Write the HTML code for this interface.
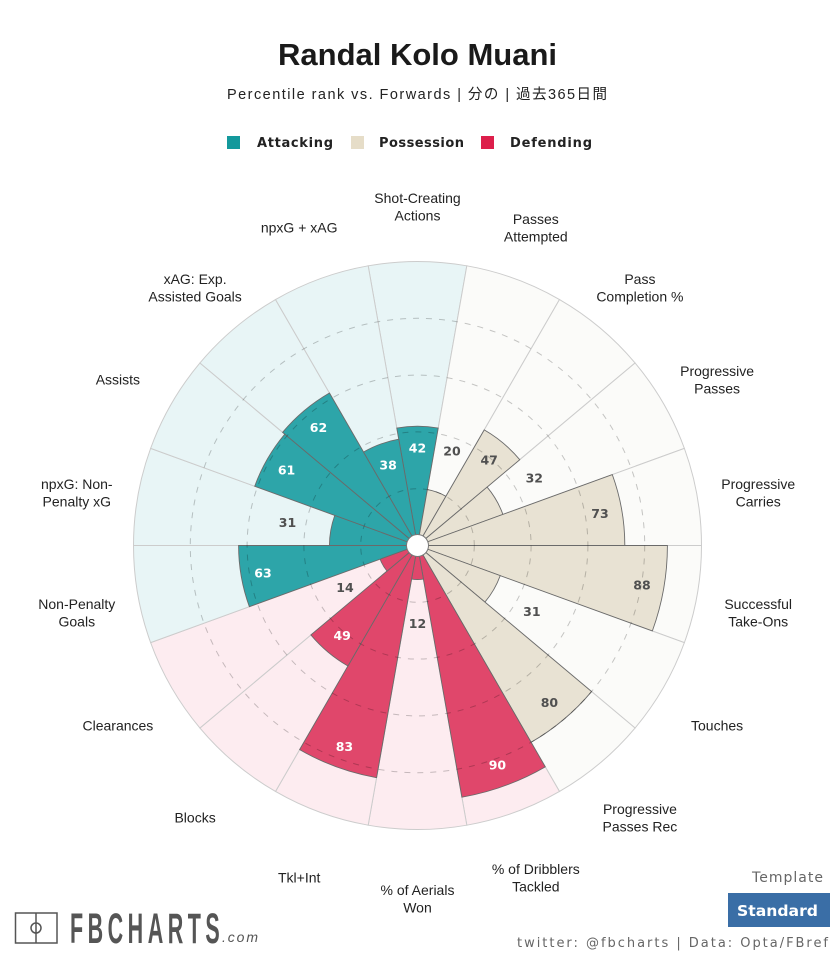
<!DOCTYPE html>
<html>
<head>
<meta charset="utf-8">
<style>
  html,body{margin:0;padding:0;background:#fff;}
  svg{display:block;}
  .lbl{font-family:"Liberation Sans",Arial,sans-serif;font-size:14px;fill:#222;text-anchor:middle;}
  .val{font-family:"DejaVu Sans","Liberation Sans",sans-serif;font-weight:bold;font-size:12.5px;text-anchor:middle;}
  .w{fill:#fff;}
  .d{fill:#505050;}
</style>
</head>
<body>
<svg width="835" height="956" viewBox="0 0 835 956" xmlns="http://www.w3.org/2000/svg">
  <rect width="835" height="956" fill="#fff"/>

  <!-- Title -->
  <text x="417.5" y="65" text-anchor="middle" font-family="Liberation Sans, Arial, sans-serif" font-weight="bold" font-size="31" fill="#1a1a1a">Randal Kolo Muani</text>
  <text x="227" y="99" textLength="380" lengthAdjust="spacing" font-family="Liberation Sans, 'Noto Sans CJK JP', sans-serif" font-size="14.5" fill="#222">Percentile rank vs. Forwards | 分の | 過去365日間</text>

  <!-- Legend -->
  <rect x="227" y="136" width="13" height="13" fill="#13999c"/>
  <text x="257" y="147" textLength="76" lengthAdjust="spacing" font-family="DejaVu Sans, sans-serif" font-weight="bold" font-size="13" fill="#222">Attacking</text>
  <rect x="351" y="136" width="13" height="13" fill="#e6ddc8"/>
  <text x="379" y="147" textLength="85" lengthAdjust="spacing" font-family="DejaVu Sans, sans-serif" font-weight="bold" font-size="13" fill="#222">Possession</text>
  <rect x="481" y="136" width="13" height="13" fill="#dd1f4b"/>
  <text x="510" y="147" textLength="82" lengthAdjust="spacing" font-family="DejaVu Sans, sans-serif" font-weight="bold" font-size="13" fill="#222">Defending</text>

  <!-- Background slices -->
  <g transform="translate(417.5 545.5)" stroke="#cccccc" stroke-width="1">
    <path transform="rotate(0)"   fill="#e8f5f6" d="M0 0L-49.316 -279.685A284 284 0 0 1 49.316 -279.685Z"/>
    <path transform="rotate(20)"  fill="#fbfbf9" d="M0 0L-49.316 -279.685A284 284 0 0 1 49.316 -279.685Z"/>
    <path transform="rotate(40)"  fill="#fbfbf9" d="M0 0L-49.316 -279.685A284 284 0 0 1 49.316 -279.685Z"/>
    <path transform="rotate(60)"  fill="#fbfbf9" d="M0 0L-49.316 -279.685A284 284 0 0 1 49.316 -279.685Z"/>
    <path transform="rotate(80)"  fill="#fbfbf9" d="M0 0L-49.316 -279.685A284 284 0 0 1 49.316 -279.685Z"/>
    <path transform="rotate(100)" fill="#fbfbf9" d="M0 0L-49.316 -279.685A284 284 0 0 1 49.316 -279.685Z"/>
    <path transform="rotate(120)" fill="#fbfbf9" d="M0 0L-49.316 -279.685A284 284 0 0 1 49.316 -279.685Z"/>
    <path transform="rotate(140)" fill="#fbfbf9" d="M0 0L-49.316 -279.685A284 284 0 0 1 49.316 -279.685Z"/>
    <path transform="rotate(160)" fill="#fdecf0" d="M0 0L-49.316 -279.685A284 284 0 0 1 49.316 -279.685Z"/>
    <path transform="rotate(180)" fill="#fdecf0" d="M0 0L-49.316 -279.685A284 284 0 0 1 49.316 -279.685Z"/>
    <path transform="rotate(200)" fill="#fdecf0" d="M0 0L-49.316 -279.685A284 284 0 0 1 49.316 -279.685Z"/>
    <path transform="rotate(220)" fill="#fdecf0" d="M0 0L-49.316 -279.685A284 284 0 0 1 49.316 -279.685Z"/>
    <path transform="rotate(240)" fill="#fdecf0" d="M0 0L-49.316 -279.685A284 284 0 0 1 49.316 -279.685Z"/>
    <path transform="rotate(260)" fill="#e8f5f6" d="M0 0L-49.316 -279.685A284 284 0 0 1 49.316 -279.685Z"/>
    <path transform="rotate(280)" fill="#e8f5f6" d="M0 0L-49.316 -279.685A284 284 0 0 1 49.316 -279.685Z"/>
    <path transform="rotate(300)" fill="#e8f5f6" d="M0 0L-49.316 -279.685A284 284 0 0 1 49.316 -279.685Z"/>
    <path transform="rotate(320)" fill="#e8f5f6" d="M0 0L-49.316 -279.685A284 284 0 0 1 49.316 -279.685Z"/>
    <path transform="rotate(340)" fill="#e8f5f6" d="M0 0L-49.316 -279.685A284 284 0 0 1 49.316 -279.685Z"/>
  </g>

  <!-- Bars -->
  <g transform="translate(417.5 545.5)" stroke="#6a6a6a" stroke-width="0.9">
    <path transform="rotate(0)"   fill="#2da5a9" d="M0 0L-20.713 -117.468A119.28 119.28 0 0 1 20.713 -117.468Z"/>
    <path transform="rotate(20)"  fill="#e8e2d3" d="M0 0L-9.863 -55.937A56.8 56.8 0 0 1 9.863 -55.937Z"/>
    <path transform="rotate(40)"  fill="#e8e2d3" d="M0 0L-23.179 -131.452A133.48 133.48 0 0 1 23.179 -131.452Z"/>
    <path transform="rotate(60)"  fill="#e8e2d3" d="M0 0L-15.781 -89.499A90.88 90.88 0 0 1 15.781 -89.499Z"/>
    <path transform="rotate(80)"  fill="#e8e2d3" d="M0 0L-36.000 -204.170A207.32 207.32 0 0 1 36.000 -204.170Z"/>
    <path transform="rotate(100)" fill="#e8e2d3" d="M0 0L-43.398 -246.123A249.92 249.92 0 0 1 43.398 -246.123Z"/>
    <path transform="rotate(120)" fill="#e8e2d3" d="M0 0L-15.288 -86.702A88.04 88.04 0 0 1 15.288 -86.702Z"/>
    <path transform="rotate(140)" fill="#e8e2d3" d="M0 0L-39.453 -223.748A227.2 227.2 0 0 1 39.453 -223.748Z"/>
    <path transform="rotate(160)" fill="#e0476b" d="M0 0L-44.384 -251.717A255.6 255.6 0 0 1 44.384 -251.717Z"/>
    <path transform="rotate(180)" fill="#e0476b" d="M0 0L-5.918 -33.562A34.08 34.08 0 0 1 5.918 -33.562Z"/>
    <path transform="rotate(200)" fill="#e0476b" d="M0 0L-40.932 -232.139A235.72 235.72 0 0 1 40.932 -232.139Z"/>
    <path transform="rotate(220)" fill="#e0476b" d="M0 0L-24.165 -137.046A139.16 139.16 0 0 1 24.165 -137.046Z"/>
    <path transform="rotate(240)" fill="#e0476b" d="M0 0L-6.904 -39.156A39.76 39.76 0 0 1 6.904 -39.156Z"/>
    <path transform="rotate(260)" fill="#2da5a9" d="M0 0L-31.069 -176.202A178.92 178.92 0 0 1 31.069 -176.202Z"/>
    <path transform="rotate(280)" fill="#2da5a9" d="M0 0L-15.288 -86.702A88.04 88.04 0 0 1 15.288 -86.702Z"/>
    <path transform="rotate(300)" fill="#2da5a9" d="M0 0L-30.083 -170.608A173.24 173.24 0 0 1 30.083 -170.608Z"/>
    <path transform="rotate(320)" fill="#2da5a9" d="M0 0L-30.576 -173.405A176.08 176.08 0 0 1 30.576 -173.405Z"/>
    <path transform="rotate(340)" fill="#2da5a9" d="M0 0L-18.740 -106.281A107.92 107.92 0 0 1 18.740 -106.281Z"/>
  </g>

  <!-- Dashed rings -->
  <g fill="none" stroke="#000" stroke-opacity="0.22" stroke-width="1" stroke-dasharray="6 7">
    <circle cx="417.5" cy="545.5" r="56.8"/>
    <circle cx="417.5" cy="545.5" r="113.6"/>
    <circle cx="417.5" cy="545.5" r="170.4"/>
    <circle cx="417.5" cy="545.5" r="227.2"/>
  </g>

  <!-- Center circle -->
  <circle cx="417.5" cy="545.5" r="11" fill="#fff" stroke="#777" stroke-width="1"/>

  <!-- Values -->
  <g dominant-baseline="central">
    <text class="val w" x="417.5" y="448.2">42</text>
    <text class="val d" x="451.98" y="450.78">20</text>
    <text class="val d" x="489.16" y="460.10">47</text>
    <text class="val d" x="534.31" y="478.06">32</text>
    <text class="val d" x="600.0" y="513.32">73</text>
    <text class="val d" x="641.96" y="585.08">88</text>
    <text class="val d" x="531.85" y="611.52">31</text>
    <text class="val d" x="549.40" y="702.69">80</text>
    <text class="val w" x="497.40" y="765.01">90</text>
    <text class="val d" x="417.5" y="623.58">12</text>
    <text class="val w" x="344.40" y="746.33">83</text>
    <text class="val w" x="342.19" y="635.25">49</text>
    <text class="val d" x="344.96" y="587.38">14</text>
    <text class="val w" x="262.96" y="572.75">63</text>
    <text class="val d" x="287.47" y="522.57">31</text>
    <text class="val w" x="286.52" y="469.88">61</text>
    <text class="val w" x="318.46" y="427.47">62</text>
    <text class="val w" x="388.11" y="464.76">38</text>
  </g>

  <!-- Labels -->
  <text class="lbl" x="417.5" y="203">Shot-Creating</text>
  <text class="lbl" x="417.5" y="220.5">Actions</text>

  <text class="lbl" x="535.8" y="223.9">Passes</text>
  <text class="lbl" x="535.8" y="241.4">Attempted</text>

  <text class="lbl" x="639.9" y="283.9">Pass</text>
  <text class="lbl" x="639.9" y="301.4">Completion %</text>

  <text class="lbl" x="717.1" y="376">Progressive</text>
  <text class="lbl" x="717.1" y="393.5">Passes</text>

  <text class="lbl" x="758.2" y="488.9">Progressive</text>
  <text class="lbl" x="758.2" y="506.4">Carries</text>

  <text class="lbl" x="758.2" y="609.1">Successful</text>
  <text class="lbl" x="758.2" y="626.6">Take-Ons</text>

  <text class="lbl" x="717.1" y="730.5">Touches</text>

  <text class="lbl" x="639.9" y="814.1">Progressive</text>
  <text class="lbl" x="639.9" y="831.6">Passes Rec</text>

  <text class="lbl" x="535.8" y="874.1">% of Dribblers</text>
  <text class="lbl" x="535.8" y="891.6">Tackled</text>

  <text class="lbl" x="417.5" y="895">% of Aerials</text>
  <text class="lbl" x="417.5" y="912.5">Won</text>

  <text class="lbl" x="299.2" y="882.6">Tkl+Int</text>

  <text class="lbl" x="195.1" y="822.6">Blocks</text>

  <text class="lbl" x="117.9" y="730.5">Clearances</text>

  <text class="lbl" x="76.8" y="609.1">Non-Penalty</text>
  <text class="lbl" x="76.8" y="626.6">Goals</text>

  <text class="lbl" x="76.8" y="488.9">npxG: Non-</text>
  <text class="lbl" x="76.8" y="506.4">Penalty xG</text>

  <text class="lbl" x="117.9" y="384.5">Assists</text>

  <text class="lbl" x="195.1" y="283.9">xAG: Exp.</text>
  <text class="lbl" x="195.1" y="301.4">Assisted Goals</text>

  <text class="lbl" x="299.2" y="232.4">npxG + xAG</text>

  <!-- Logo -->
  <g stroke="#555" stroke-width="1.5" fill="none">
    <rect x="15.5" y="913" width="41.5" height="30"/>
    <line x1="36" y1="913" x2="36" y2="943"/>
    <circle cx="36" cy="928" r="5"/>
  </g>
  <text transform="translate(70 943) scale(0.5 1)" font-family="Liberation Sans, Arial, sans-serif" font-weight="bold" font-size="43" letter-spacing="9" fill="#555">FBCHARTS</text>
  <text x="222" y="942" textLength="36" lengthAdjust="spacing" font-family="Liberation Sans, Arial, sans-serif" font-style="italic" font-size="14" fill="#555">.com</text>

  <!-- Template / Standard -->
  <text x="752" y="882" textLength="71" lengthAdjust="spacing" font-family="DejaVu Sans, sans-serif" font-size="14" fill="#666">Template</text>
  <rect x="728" y="893" width="102" height="34" fill="#3a6ea6"/>
  <text x="737" y="916" textLength="81" lengthAdjust="spacingAndGlyphs" font-family="DejaVu Sans, sans-serif" font-weight="bold" font-size="15.5" fill="#fff">Standard</text>

  <!-- Credit -->
  <text x="517" y="947" textLength="311" lengthAdjust="spacing" font-family="DejaVu Sans, sans-serif" font-size="13" fill="#666">twitter: @fbcharts | Data: Opta/FBref</text>
</svg>
</body>
</html>
